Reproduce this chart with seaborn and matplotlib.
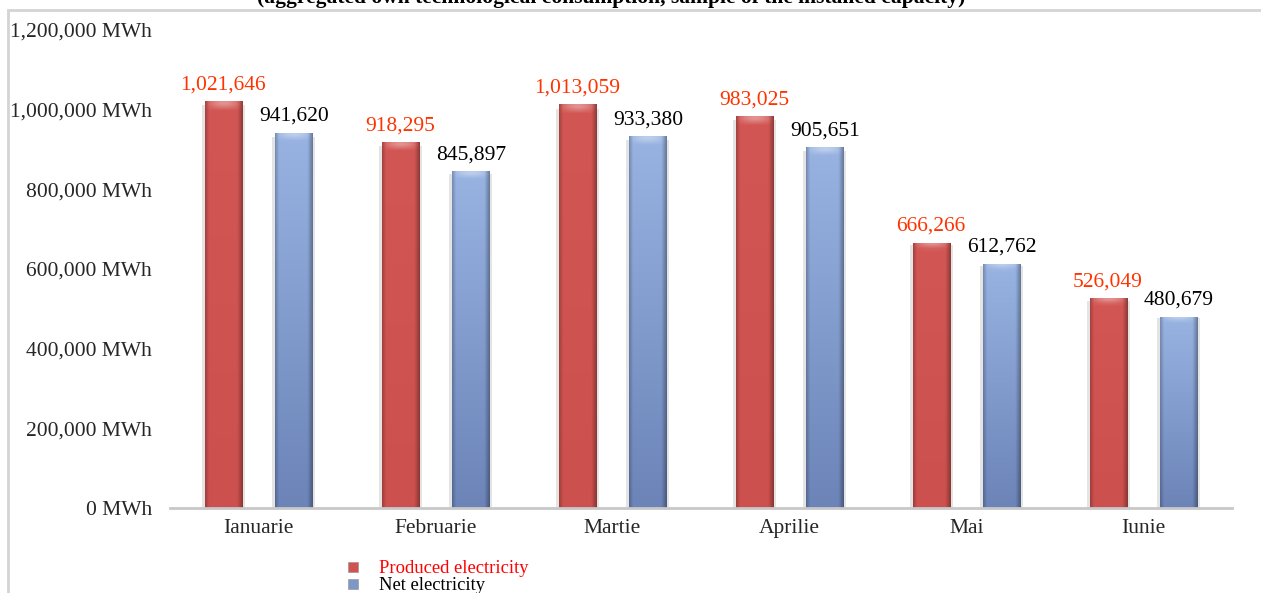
import numpy as np
import pandas as pd
import matplotlib
matplotlib.use("Agg")
import matplotlib.pyplot as plt
import seaborn as sns
from matplotlib.patches import Rectangle
from matplotlib.lines import Line2D
from matplotlib.colors import to_rgb

# Monthly electricity, MWh
months = ["Ianuarie", "Februarie", "Martie", "Aprilie", "Mai", "Iunie"]
produced = [1021646, 918295, 1013059, 983025, 666266, 526049]
net = [941620, 845897, 933380, 905651, 612762, 480679]
series_names = ["Produced electricity", "Net electricity"]
y_ticks = [0, 200000, 400000, 600000, 800000, 1000000, 1200000]
title_text = "(aggregated own technological consumption, sample of the installed capacity)"

df = pd.DataFrame({
    "month": months * 2,
    "value": produced + net,
    "series": [series_names[0]] * len(months) + [series_names[1]] * len(months),
})

sns.set_theme(style="white")
plt.rcParams["font.family"] = ["Liberation Serif", "DejaVu Serif"]

red = "#CF5451"
blue = "#8AA3D4"
palette = {series_names[0]: red, series_names[1]: blue}

fig = plt.figure(figsize=(12.61, 5.93), dpi=100)
ax = fig.add_axes([170 / 1261, 1 - 508 / 593, (1232 - 170) / 1261, (508 - 30) / 593])

sns.barplot(data=df, x="month", y="value", hue="series", order=months,
            hue_order=series_names, palette=palette, width=0.8, gap=0.475,
            saturation=1, ax=ax, legend=False, edgecolor="none")

# Shading: (top colour, bottom colour) per series, darkened towards the sides
shade = {
    0: (to_rgb("#D25653"), to_rgb("#CC504D")),
    1: (to_rgb("#98B3E2"), to_rgb("#6C84B8")),
}
nx, ny = 48, 64
xs = np.linspace(0, 1, nx)
side = 1 - 0.22 * np.clip(1 - xs / 0.10, 0, 1) - 0.32 * np.clip((xs - 0.86) / 0.14, 0, 1)
for i, cont in enumerate(ax.containers):
    top, bot = np.array(shade[i][0]), np.array(shade[i][1])
    for bar in cont:
        x0, w, h = bar.get_x(), bar.get_width(), bar.get_height()
        # soft grey halo around the bar
        ax.add_patch(Rectangle((x0 - w * 0.08, 0), w * 1.16, h * 0.99, facecolor="#E4E4E4",
                               edgecolor="none", zorder=bar.get_zorder() - 0.5))
        t = np.linspace(0, 1, ny)[:, None, None]
        img = (top * (1 - t) + bot * t) * side[None, :, None]
        # lighter rounded bevel on top
        bevel_px = 13000 / h
        ys = np.linspace(0, 1, ny)[:, None]
        bev = np.clip(1 - ys / bevel_px, 0, 1) * (0.35 * np.sin(np.pi * xs)[None, :])
        img = img * (1 - bev[..., None]) + bev[..., None]
        im = ax.imshow(np.clip(img, 0, 1), extent=(x0, x0 + w, 0, h), aspect="auto",
                       origin="upper", zorder=bar.get_zorder() + 0.1, interpolation="bilinear")
        im.set_clip_path(bar)

# Value labels
label_colors = ["#FF3300", "black"]
for i, cont in enumerate(ax.containers):
    vals = produced if i == 0 else net
    for bar, v in zip(cont, vals):
        ax.annotate(f"{v:,.0f}", (bar.get_x() + bar.get_width() / 2, v),
                    xytext=(0, 5), textcoords="offset points", ha="center", va="bottom",
                    fontsize=15.5, color=label_colors[i], zorder=10)

ax.set_xlim(-0.5, len(months) - 0.5)
ax.set_ylim(0, 1200000)
ax.set_yticks(y_ticks)
ax.set_yticklabels([f"{v:,.0f} MWh" for v in y_ticks], fontsize=15.5)
ax.tick_params(axis="y", length=0, pad=13)
ax.set_xticks(range(len(months)))
ax.set_xticklabels(months, fontsize=15.5)
ax.tick_params(axis="x", length=0, pad=8)
# category boundary tick marks
ax.set_xticks(np.arange(-0.5, len(months)), minor=True)
ax.tick_params(axis="x", which="minor", length=6, width=1.5, color="#C8C8C8", direction="out")
ax.set_xlabel("")
ax.set_ylabel("")
for s in ["top", "right", "left"]:
    ax.spines[s].set_visible(False)
ax.spines["bottom"].set_color("#C8C8C8")
ax.spines["bottom"].set_linewidth(2)
ax.set_facecolor("none")

# Outer frame of the chart area
fig.patches.append(Rectangle((8 / 1261, -0.1), 1.2, 1 - 10 / 593 + 0.1, transform=fig.transFigure,
                             facecolor="none", edgecolor="#D4D4D4", linewidth=2, zorder=0))

# Title, running off the top of the canvas
fig.text(0.485, 1 - 3 / 593, title_text, ha="center", va="baseline",
         fontsize=15.5, fontweight="bold", color="black")

# Legend
handles = [Line2D([], [], marker="s", linestyle="none", markersize=6.5,
                  markerfacecolor=c, markeredgecolor="#8F8F8F", markeredgewidth=0.4)
           for c in [red, "#7D97C6"]]
leg = fig.legend(handles, series_names, loc="upper left",
                 bbox_to_anchor=(336 / 1261, 1 - 551 / 593), frameon=False,
                 fontsize=13.4, handletextpad=1.0, labelspacing=0.0, borderpad=0,
                 handlelength=0.8)
leg.get_texts()[0].set_color("#FF0000")
leg.get_texts()[1].set_color("black")

fig.savefig("out.png", dpi=100)
